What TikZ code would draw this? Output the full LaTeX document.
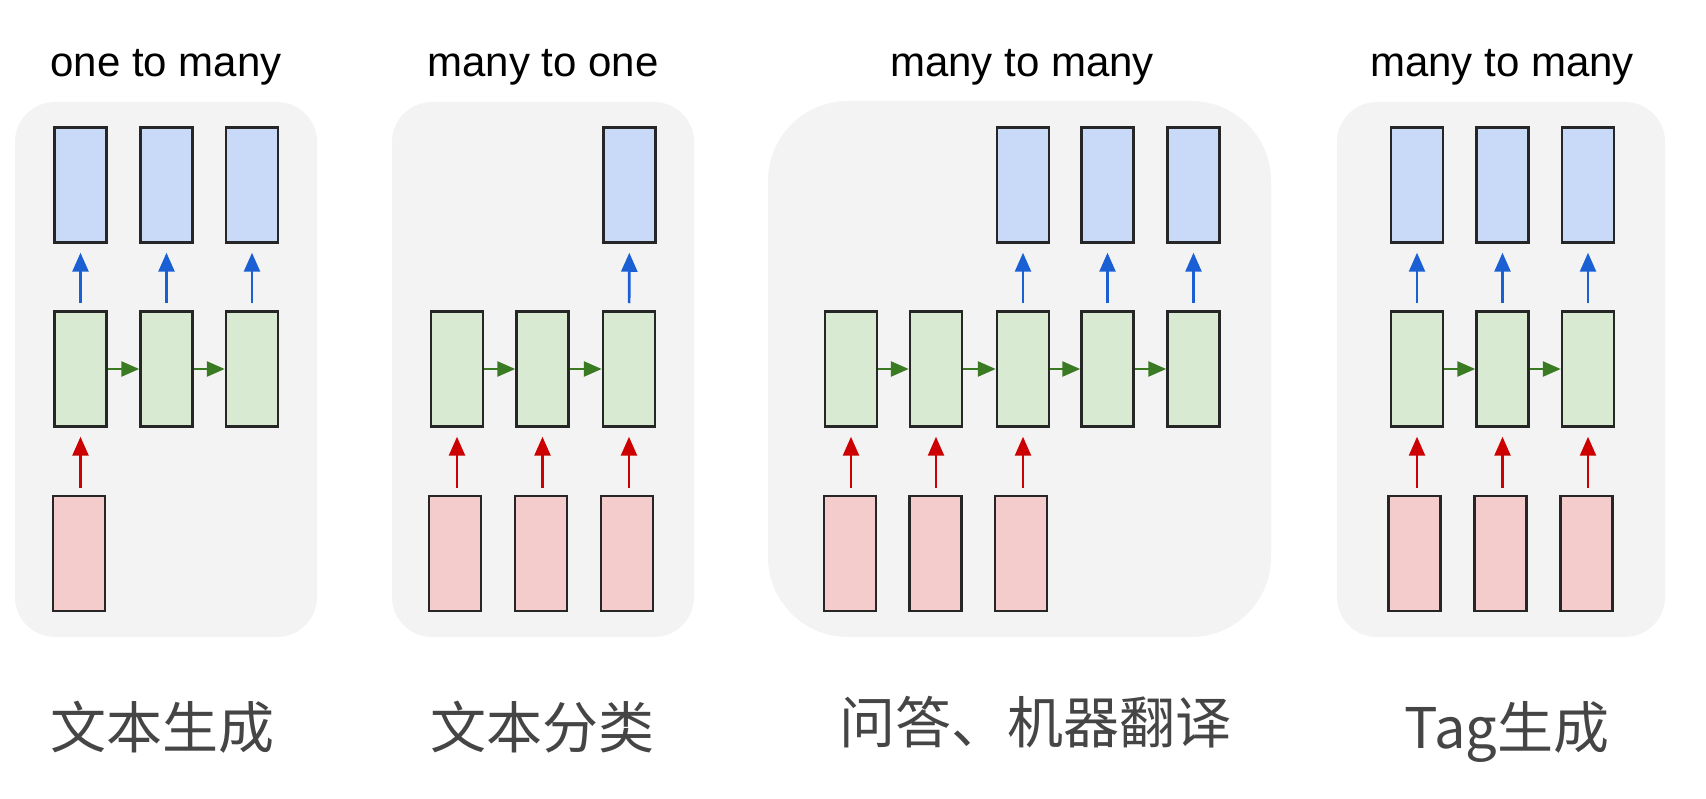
\documentclass[tikz,border=0pt]{standalone}
\usepackage{fontspec}
\usetikzlibrary{arrows.meta}
\newfontfamily\titlefont{Liberation Sans}
\newfontfamily\cjkfont{Noto Sans CJK SC}
\definecolor{panelbg}{HTML}{F3F3F3}
\definecolor{outfill}{HTML}{C9DAF8}
\definecolor{hidfill}{HTML}{D9EAD3}
\definecolor{infill}{HTML}{F4CCCC}
\definecolor{boxline}{HTML}{262626}
\definecolor{bluearr}{HTML}{1A5FD3}
\definecolor{greenarr}{HTML}{3A7A22}
\definecolor{redarr}{HTML}{CC0000}
\definecolor{labelgray}{HTML}{454545}
\begin{document}
\begin{tikzpicture}[x=1pt,y=-1pt,
  cell/.style={draw=boxline, line width=2.5pt, minimum width=52pt, minimum height=115pt, inner sep=0pt, anchor=center},
  outcell/.style={cell, fill=outfill},
  hidcell/.style={cell, fill=hidfill},
  incell/.style={cell, fill=infill},
  panel/.style={fill=panelbg},
  uparr/.style={line width=2.6pt, -{Triangle[length=19pt,width=16pt]}, shorten <=7pt, shorten >=9pt},
  blueup/.style={uparr, draw=bluearr, fill=bluearr},
  redup/.style={uparr, draw=redarr, fill=redarr},
  rightarr/.style={line width=2.6pt, draw=greenarr, -{Triangle[length=18pt,width=15pt,fill=greenarr]}},
  title/.style={font=\titlefont\fontsize{42}{50}\selectfont, anchor=base, text=black, inner sep=0pt},
  cjklabel/.style={font=\cjkfont\fontsize{56}{66}\selectfont, anchor=base, text=labelgray, inner sep=0pt}
]
\useasboundingbox (0,0) rectangle (1706,799);
\fill[white] (0,0) rectangle (1706,799);

% panels
\fill[panel, rounded corners=40pt] (15,102) rectangle (317,637);
\fill[panel, rounded corners=40pt] (392,102) rectangle (694,637);
\fill[panel, rounded corners=80pt] (768,101) rectangle (1271,637);
\fill[panel, rounded corners=40pt] (1337,102) rectangle (1665,637);

% titles
\node[title] (t1) at (166,77) {one to many};
\node[title] (t2) at (543,77) {many to one};
\node[title] (t3) at (1022,77) {many to many};
\node[title] (t4) at (1502,77) {many to many};

% ---------- panel 1: one to many ----------
\node[outcell] (a-o1) at (80.5,185) {};
\node[outcell] (a-o2) at (166.5,185) {};
\node[outcell] (a-o3) at (252,185) {};
\node[hidcell] (a-h1) at (80.5,369) {};
\node[hidcell] (a-h2) at (166.5,369) {};
\node[hidcell] (a-h3) at (252,369) {};
\node[incell] (a-i1) at (79,553.5) {};
\draw[blueup] (a-h1) -- (a-o1);
\draw[blueup] (a-h2) -- (a-o2);
\draw[blueup] (a-h3) -- (a-o3);
\draw[rightarr] (a-h1) -- (a-h2);
\draw[rightarr] (a-h2) -- (a-h3);
\draw[redup] (a-h1.south |- a-i1.north) -- (a-h1.south);

% ---------- panel 2: many to one ----------
\node[outcell] (b-o3) at (629.5,185) {};
\node[hidcell] (b-h1) at (457,369) {};
\node[hidcell] (b-h2) at (542.5,369) {};
\node[hidcell] (b-h3) at (629,369) {};
\node[incell] (b-i1) at (455,553.5) {};
\node[incell] (b-i2) at (541,553.5) {};
\node[incell] (b-i3) at (627,553.5) {};
\draw[blueup] (b-h3) -- (b-o3);
\draw[rightarr] (b-h1) -- (b-h2);
\draw[rightarr] (b-h2) -- (b-h3);
\draw[redup] (b-h1.south |- b-i1.north) -- (b-h1.south);
\draw[redup] (b-h2.south |- b-i2.north) -- (b-h2.south);
\draw[redup] (b-h3.south |- b-i3.north) -- (b-h3.south);

% ---------- panel 3: many to many (seq2seq) ----------
\node[outcell] (c-o3) at (1023,185) {};
\node[outcell] (c-o4) at (1107.5,185) {};
\node[outcell] (c-o5) at (1193.5,185) {};
\node[hidcell] (c-h1) at (851,369) {};
\node[hidcell] (c-h2) at (936,369) {};
\node[hidcell] (c-h3) at (1023,369) {};
\node[hidcell] (c-h4) at (1107.5,369) {};
\node[hidcell] (c-h5) at (1193.5,369) {};
\node[incell] (c-i1) at (850,553.5) {};
\node[incell] (c-i2) at (935.5,553.5) {};
\node[incell] (c-i3) at (1021,553.5) {};
\draw[blueup] (c-h3) -- (c-o3);
\draw[blueup] (c-h4) -- (c-o4);
\draw[blueup] (c-h5) -- (c-o5);
\draw[rightarr] (c-h1) -- (c-h2);
\draw[rightarr] (c-h2) -- (c-h3);
\draw[rightarr] (c-h3) -- (c-h4);
\draw[rightarr] (c-h4) -- (c-h5);
\draw[redup] (c-h1.south |- c-i1.north) -- (c-h1.south);
\draw[redup] (c-h2.south |- c-i2.north) -- (c-h2.south);
\draw[redup] (c-h3.south |- c-i3.north) -- (c-h3.south);

% ---------- panel 4: many to many (synced) ----------
\node[outcell] (d-o1) at (1417,185) {};
\node[outcell] (d-o2) at (1502.5,185) {};
\node[outcell] (d-o3) at (1588,185) {};
\node[hidcell] (d-h1) at (1417,369) {};
\node[hidcell] (d-h2) at (1502.5,369) {};
\node[hidcell] (d-h3) at (1588,369) {};
\node[incell] (d-i1) at (1414.5,553.5) {};
\node[incell] (d-i2) at (1500.5,553.5) {};
\node[incell] (d-i3) at (1586.5,553.5) {};
\draw[blueup] (d-h1) -- (d-o1);
\draw[blueup] (d-h2) -- (d-o2);
\draw[blueup] (d-h3) -- (d-o3);
\draw[rightarr] (d-h1) -- (d-h2);
\draw[rightarr] (d-h2) -- (d-h3);
\draw[redup] (d-h1.south |- d-i1.north) -- (d-h1.south);
\draw[redup] (d-h2.south |- d-i2.north) -- (d-h2.south);
\draw[redup] (d-h3.south |- d-i3.north) -- (d-h3.south);

% labels
\node[cjklabel] (l1) at (162,748) {文本生成};
\node[cjklabel] (l2) at (542,748) {文本分类};
\node[cjklabel] (l3) at (1035,743) {问答、机器翻译};
\node[cjklabel] (l4) at (1507,748) {Tag生成};
\end{tikzpicture}
\end{document}
